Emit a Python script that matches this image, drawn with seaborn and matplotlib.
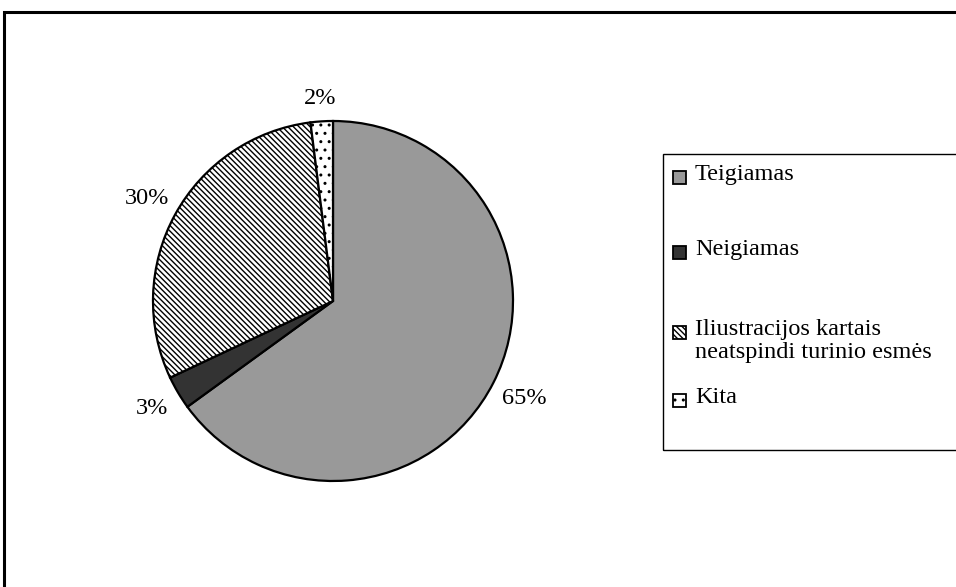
import matplotlib
matplotlib.use("Agg")
import matplotlib.pyplot as plt
import seaborn as sns
import numpy as np
from matplotlib.patches import Rectangle

# data
categories = ["Teigiamas", "Neigiamas",
              "Iliustracijos kartais\nneatspindi turinio esmės", "Kita"]
shares = [65, 3, 30, 2]
colors = ["#999999", "#333333", "#ffffff", "#ffffff"]
hatches = [None, None, "\\\\\\\\\\\\", ".."]

sns.set_theme(style="white")
plt.rcParams["font.family"] = ["Liberation Serif", "DejaVu Serif"]
plt.rcParams["hatch.linewidth"] = 1.0

W, H = 956, 587
FS = 17.5
fig = plt.figure(figsize=(W / 100, H / 100), dpi=100)
fig.patch.set_facecolor("white")

# pie axes: centre (333, 301) px, radius ~180 px
cx, cy, r = 333, 301, 180
ax = fig.add_axes([(cx - r) / W, (H - cy - r) / H, 2 * r / W, 2 * r / H])
wedges, _ = ax.pie(
    shares, colors=colors, startangle=90, counterclock=False,
    wedgeprops={"edgecolor": "black", "linewidth": 1.6},
)
for w, h in zip(wedges, hatches):
    if h:
        w.set_hatch(h)

# percentage labels outside the wedges
label_dist = [1.19, 1.17, 1.18, 1.13]
for w, s, d in zip(wedges, shares, label_dist):
    ang = np.deg2rad((w.theta1 + w.theta2) / 2)
    ax.text(d * np.cos(ang), d * np.sin(ang), f"{s}%", ha="center",
            va="center", fontsize=FS, color="black")
ax.set_xlim(-1, 1)
ax.set_ylim(-1, 1)
ax.set_aspect("equal")
ax.axis("off")

# outer chart frame (only left/top visible in the reference)
fig.add_artist(Rectangle((4 / W, -0.1), 1.2, (H - 12) / H + 0.1,
                         transform=fig.transFigure, fill=False,
                         edgecolor="black", linewidth=2.2))

# legend frame, running off the right edge
fig.add_artist(Rectangle((663 / W, (H - 450) / H), 0.4, 296 / H,
                         transform=fig.transFigure, fill=False,
                         edgecolor="black", linewidth=1.0))

# legend entries (handle sits on the first text line)
entry_y = [177, 252, 332, 400]
box = 13
for lab, c, h, y in zip(categories, colors, hatches, entry_y):
    fig.add_artist(Rectangle((673 / W, (H - y - box / 2) / H), box / W, box / H,
                             transform=fig.transFigure, facecolor=c,
                             edgecolor="black", linewidth=1.3, hatch=h))
    fig.text(695 / W, (H - y + 13) / H, lab, ha="left", va="top",
             fontsize=FS, linespacing=1.1, color="black")

fig.savefig("out.png", dpi=100, facecolor="white")
